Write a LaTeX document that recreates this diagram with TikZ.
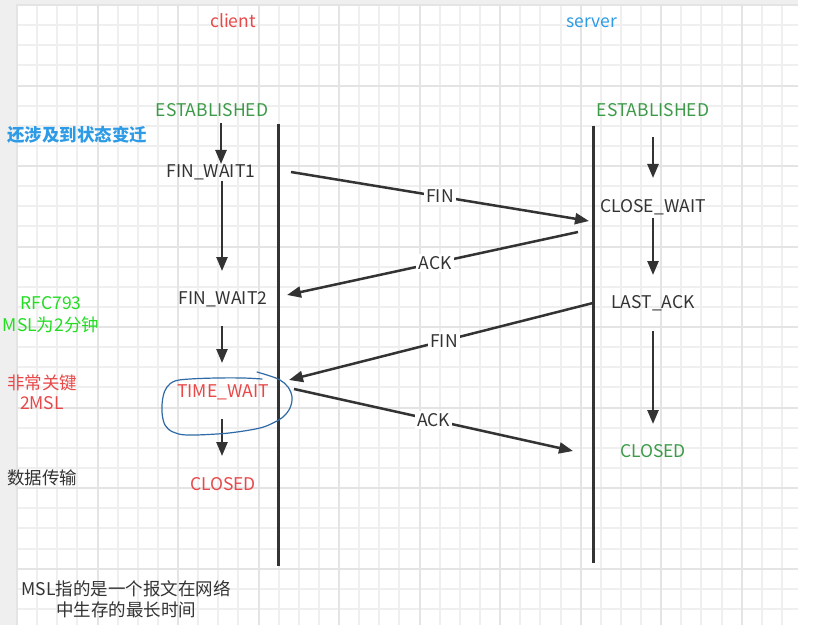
\documentclass[tikz,border=0pt]{standalone}
\usepackage{fontspec}
\setmainfont{Noto Sans CJK SC}
\usetikzlibrary{arrows.meta}
\definecolor{gridminor}{HTML}{EFEFEF}
\definecolor{gridmajor}{HTML}{E4E4E4}
\definecolor{stripgray}{HTML}{EFEFEF}
\definecolor{txtdark}{HTML}{333333}
\definecolor{txtred}{HTML}{E84848}
\definecolor{txtblue}{HTML}{2E9BE6}
\definecolor{txtgreen}{HTML}{3C9A48}
\definecolor{txtlime}{HTML}{22DD22}
\definecolor{circblue}{HTML}{2F6AA6}
\tikzset{
  lbl/.style={inner sep=0pt, font=\fontsize{17.5}{21}\selectfont, text=txtdark, text height=12.8pt, text depth=0pt},
  note/.style={inner sep=0pt, text=txtdark},
  msglbl/.style={lbl, fill=white, inner sep=2.5pt},
  lifeline/.style={line width=3pt, draw=txtdark},
  flow/.style={line width=2.5pt, draw=txtdark, -{Triangle[length=14pt,width=11pt]}},
  gminor/.style={draw=gridminor, line width=2pt},
  gmajor/.style={draw=gridmajor, line width=2pt},
}
\begin{document}
\begin{tikzpicture}[x=1pt,y=-1pt]
\useasboundingbox (0,0) rectangle (813,639);
% background
\fill[white] (0,0) rectangle (813,639);
\fill[stripgray] (0,0) rectangle (17,625);
\fill[stripgray] (0,0) rectangle (798,4);
\begin{scope}
\clip (16,4) rectangle (798,625);
\foreach \i in {0,...,38} {\pgfmathsetmacro{\gx}{round(17+20.13*\i)}\draw[gminor] (\gx,4) -- (\gx,625);}
\foreach \j in {0,...,30} {\pgfmathsetmacro{\gy}{round(5+20.13*\j)}\draw[gminor] (16,\gy) -- (798,\gy);}
\foreach \i in {0,4,...,36} {\pgfmathsetmacro{\gx}{round(17+20.13*\i)}\draw[gmajor] (\gx,4) -- (\gx,625);}
\foreach \j in {0,4,...,28} {\pgfmathsetmacro{\gy}{round(5+20.13*\j)}\draw[gmajor] (16,\gy) -- (798,\gy);}
\end{scope}

% headers
\node[lbl, text=txtred] (client) at (233,21.6) {client};
\node[lbl, text=txtblue] (server) at (592,21.6) {server};

% client states
\node[lbl, text=txtgreen] (cest) at (212,110) {ESTABLISHED};
\node[lbl] (fw1) at (211,171.5) {FIN\_WAIT1};
\node[lbl] (fw2) at (223,298.5) {FIN\_WAIT2};
\node[lbl, text=txtred] (tw) at (223,391) {TIME\_WAIT};
\node[lbl, text=txtred] (cclosed) at (223,484.5) {CLOSED};

% server states
\node[lbl, text=txtgreen] (sest) at (653,110) {ESTABLISHED};
\node[lbl] (cw) at (653,206) {CLOSE\_WAIT};
\node[lbl] (la) at (653,302.5) {LAST\_ACK};
\node[lbl, text=txtgreen] (sclosed) at (653,451) {CLOSED};

% side notes
\node[note, text=txtblue, font=\fontsize{17.5}{21}\selectfont\bfseries] (note1) at (77,135) {还涉及到状态变迁};
\node[note, text=txtlime, align=center, font=\fontsize{17.5}{22}\selectfont] (note2) at (51,314.5) {RFC793\\MSL为2分钟};
\node[note, text=txtred, align=center, font=\fontsize{17.5}{20}\selectfont] (note3) at (42,392) {非常关键\\2MSL};
\node[note, font=\fontsize{17.5}{21}\selectfont] (note4) at (42,477.5) {数据传输};
\node[note, align=center, font=\fontsize{17.5}{21}\selectfont] (note5) at (126,599.5) {MSL指的是一个报文在网络\\中生存的最长时间};

% lifelines
\coordinate (cltop) at (278,124);
\coordinate (clbot) at (278,566);
\coordinate (svtop) at (593,126);
\coordinate (svbot) at (593,563);
\draw[lifeline] (cltop) -- (clbot);
\draw[lifeline] (svtop) -- (svbot);

% client state transitions
\coordinate (c1a) at (221,123); \coordinate (c1b) at (221,164);
\coordinate (c2a) at (222,181); \coordinate (c2b) at (222,271);
\coordinate (c3a) at (222,326); \coordinate (c3b) at (222,363);
\coordinate (c4a) at (222,419); \coordinate (c4b) at (222,456);
\draw[flow] (c1a) -- (c1b);
\draw[flow] (c2a) -- (c2b);
\draw[flow] (c3a) -- (c3b);
\draw[flow] (c4a) -- (c4b);

% server state transitions
\coordinate (s1a) at (653,137); \coordinate (s1b) at (653,178);
\coordinate (s2a) at (653,218); \coordinate (s2b) at (653,275);
\coordinate (s3a) at (653,331); \coordinate (s3b) at (653,424);
\draw[flow] (s1a) -- (s1b);
\draw[flow] (s2a) -- (s2b);
\draw[flow] (s3a) -- (s3b);

% messages
\coordinate (m1a) at (291,172); \coordinate (m1b) at (589,221);
\coordinate (m2a) at (578,232); \coordinate (m2b) at (287,295);
\coordinate (m3a) at (593,303); \coordinate (m3b) at (289,380);
\coordinate (m4a) at (294,389); \coordinate (m4b) at (573,451);
\draw[flow] (m1a) -- node[msglbl, pos=0.5] (fin1) {FIN} (m1b);
\draw[flow] (m2a) -- node[msglbl, pos=0.49] (ack1) {ACK} (m2b);
\draw[flow] (m3a) -- node[msglbl, pos=0.49] (fin2) {FIN} (m3b);
\draw[flow] (m4a) -- node[msglbl, pos=0.5] (ack2) {ACK} (m4b);

% hand-drawn loop around TIME_WAIT
\draw[circblue, line width=1.2pt, line cap=round] plot[smooth, tension=0.6] coordinates {
(257,372) (270,376) (280,380) (288,387) (292,397) (290,408) (283,417) (273,423) (260,428) (237,432) (217,434) (187,435) (173,432) (165,425) (162,412) (163,397) (167,387) (175,381) (190,379) (217,378) (243,378) (262,379)};
\end{tikzpicture}
\end{document}
